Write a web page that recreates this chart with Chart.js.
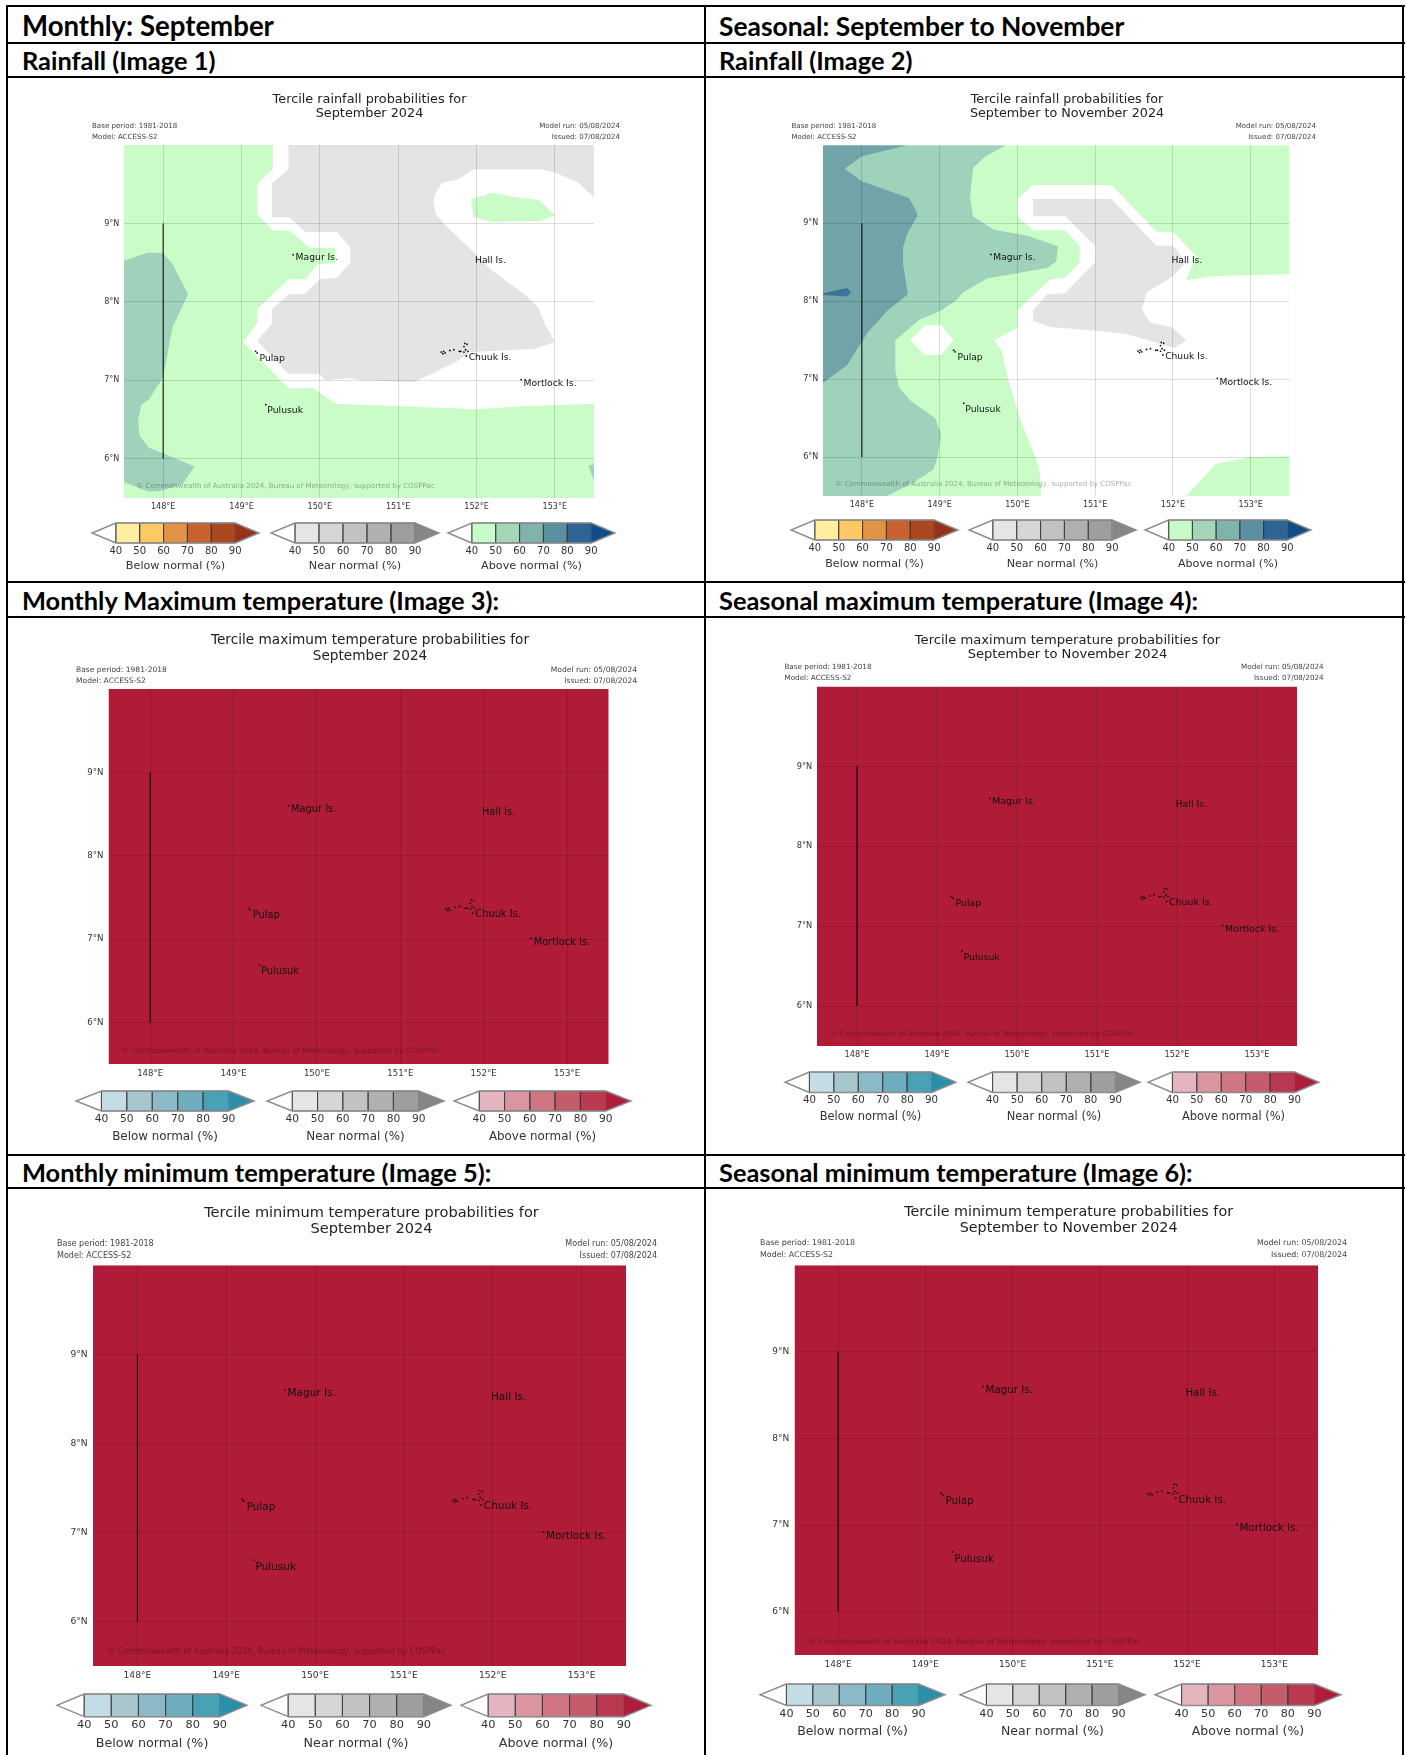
<!DOCTYPE html>
<html>
<head>
<meta charset="utf-8">
<script src="https://cdn.jsdelivr.net/npm/chart.js@4/dist/chart.umd.min.js"></script>
<style>
html, body { margin: 0; padding: 0; background: #fff; }
#page { position: relative; width: 1407px; height: 1755px; overflow: hidden; }
#page canvas { position: absolute; filter: blur(0.45px); }
.rule { position: absolute; background: #000; }
.head { position: absolute; font: bold 25.4px Lato, sans-serif; color: #000; white-space: nowrap; line-height: 30px; }
</style>
</head>
<body>
<div id="page"></div>
<script>
// axis ticks
const lonTicks = [148, 149, 150, 151, 152, 153];
const latTicks = [6, 7, 8, 9];
const lonRange = [147.5, 153.5];
const latRange = [5.5, 10];
const barTicks = [40, 50, 60, 70, 80, 90];
const barLabels = ['Below normal (%)', 'Near normal (%)', 'Above normal (%)'];

// colours of the tercile bars, last one is the arrow
const belowRain = ['#ffeda0', '#fec965', '#e09444', '#c9622f', '#ab4822', '#96321b'];
const nearAll = ['#e5e5e5', '#d6d6d6', '#c2c2c2', '#b0b0b0', '#9e9e9e', '#868686'];
const aboveRain = ['#c7fcc8', '#a4d5b6', '#7fb3ac', '#5a90a2', '#2f6496', '#104d87'];
const belowTemp = ['#c4dde4', '#a7c6cd', '#8bb9c7', '#6dadbe', '#49a1b6', '#2a8fa9'];
const aboveTemp = ['#e4b5be', '#da95a0', '#cf7682', '#c55c6b', '#b93a50', '#ae1d3b'];

// map regions, [lon, lat]
const fullArea = [[147.5, 5.5], [153.5, 5.5], [153.5, 10], [147.5, 10]];
const meridian = [[148, 6], [148, 9]];

const rain1Green = [[147.5, 10], [149.4, 10], [149.4, 9.69], [149.2, 9.5], [149.2, 9.12], [149.4, 8.91], [149.61, 8.91], [149.87, 8.69], [150.2, 8.69], [150.2, 8.5], [149.97, 8.48], [149.82, 8.29], [149.61, 8.29], [149.58, 8.27], [149.2, 7.91], [149.2, 7.72], [149.02, 7.49], [149.6, 6.9], [149.92, 6.9], [150.2, 6.7], [151.05, 6.67], [152, 6.63], [152.58, 6.67], [153.5, 6.7], [153.5, 5.5], [147.5, 5.5]];
const rain1GreenIsle = [[151.93, 9.31], [152.2, 9.39], [152.53, 9.33], [152.8, 9.3], [153, 9.1], [152.81, 9.03], [152.2, 9.02], [151.96, 9.08]];
const rain1Teal = [[147.5, 8.525], [147.81, 8.63], [148, 8.62], [148.12, 8.48], [148.29, 8.15], [148.32, 8.1], [148.12, 7.68], [148, 7.04], [147.82, 6.76], [147.72, 6.69], [147.68, 6.49], [147.7, 6.29], [147.82, 6.14], [148.02, 6.06], [148.4, 5.9], [148.25, 5.68], [147.97, 5.59], [147.82, 5.58], [147.5, 5.7]];
const rain1TealEast = [[153.43, 5.91], [153.5, 5.93], [153.5, 5.72]];
const rain1Grey = [[149.6, 10], [153.5, 10], [153.5, 9.33], [153.3, 9.52], [153, 9.65], [152.82, 9.69], [151.97, 9.69], [151.76, 9.56], [151.56, 9.52], [151.48, 9.39], [151.45, 9.27], [151.48, 9.12], [151.61, 8.97], [151.97, 8.63], [152.2, 8.4], [152.4, 8.25], [152.61, 8.1], [152.79, 7.93], [152.87, 7.72], [153, 7.49], [152.74, 7.4], [151.92, 7.36], [151.76, 7.25], [151.46, 7.1], [151.2, 6.98], [150.53, 7], [150.38, 7.03], [150.07, 7], [150, 7.08], [149.6, 7.08], [149.2, 7.5], [149.39, 7.72], [149.39, 7.91], [149.61, 8.1], [149.8, 8.1], [150, 8.29], [150.22, 8.31], [150.39, 8.5], [150.39, 8.69], [150.22, 8.89], [149.82, 8.89], [149.61, 9.08], [149.39, 9.08], [149.39, 9.51], [149.6, 9.69]];

const rain2Mid = [[147.5, 10], [149.85, 10], [149.59, 9.86], [149.43, 9.71], [149.39, 9.33], [149.43, 9.09], [149.69, 8.92], [150.13, 8.84], [150.39, 8.75], [150.52, 8.7], [150.5, 8.51], [150.39, 8.43], [149.61, 8.29], [149.3, 8.11], [149.21, 8.01], [149, 7.87], [148.74, 7.76], [148.43, 7.5], [148.43, 7.1], [148.48, 6.89], [148.63, 6.72], [148.94, 6.5], [149.02, 6.29], [148.97, 5.99], [148.92, 5.84], [148.63, 5.65], [148.32, 5.5], [147.5, 5.5]];
const rain2Dark = [[147.5, 10], [148.58, 10], [148, 9.86], [147.78, 9.7], [148, 9.54], [148.61, 9.32], [148.72, 9.11], [148.58, 8.86], [148.53, 8.69], [148.53, 8.48], [148.59, 8.09], [148.32, 7.87], [148.07, 7.59], [147.81, 7.18], [147.5, 6.95]];
const rain2Blue = [[147.5, 8.1], [147.81, 8.17], [147.86, 8.11], [147.81, 8.06], [147.5, 8.08]];
const rain2White = [[150.2, 9.49], [151.21, 9.49], [151.79, 8.89], [152, 8.89], [152.3, 8.58], [152.17, 8.27], [152.51, 8.32], [153.5, 8.35], [153.5, 6.01], [153, 6], [152.55, 5.91], [152.42, 5.77], [152.17, 5.5], [150.3, 5.5], [150.3, 5.68], [150.27, 5.9], [150.03, 6.5], [149.88, 7], [149.8, 7.36], [149.7, 7.5], [150, 7.66], [150, 7.88], [150.42, 8.28], [150.61, 8.3], [150.8, 8.5], [150.8, 8.71], [150.61, 8.91], [150.2, 8.91], [150, 9.09], [150, 9.31]];
const rain2Hole = [[148.62, 7.5], [148.81, 7.69], [149.02, 7.69], [149.18, 7.5], [149.02, 7.31], [148.81, 7.31]];
const rain2Grey = [[150.2, 9.31], [151.21, 9.31], [151.79, 8.71], [152, 8.71], [152.17, 8.5], [152, 8.32], [151.66, 8.11], [151.6, 7.9], [151.7, 7.73], [152, 7.66], [152.17, 7.5], [152.02, 7.4], [151.4, 7.58], [151, 7.62], [150.42, 7.67], [150.2, 7.75], [150.2, 7.88], [150.38, 8.09], [150.61, 8.1], [151, 8.5], [151, 8.71], [150.61, 9.09], [150.2, 9.09]];

// place names and the little islands, [lon, lat]
const placeNames = ['Magur Is.', 'Hall Is.', 'Pulap', 'Pulusuk', 'Chuuk Is.', 'Mortlock Is.'];
const placeAt = [[149.69, 8.56], [151.98, 8.52], [149.23, 7.28], [149.33, 6.61], [151.9, 7.29], [152.6, 6.96]];
const islands = [[149.66, 8.6], [149.18, 7.37], [149.2, 7.35], [149.31, 6.69], [152.57, 7.01], [151.55, 7.36], [151.58, 7.37], [151.6, 7.35], [151.57, 7.34], [151.66, 7.38], [151.71, 7.39], [151.78, 7.37], [151.8, 7.37], [151.85, 7.47], [151.88, 7.46], [151.84, 7.43], [151.86, 7.39], [151.89, 7.37], [151.84, 7.36], [151.87, 7.31]];

const titleFirst = ['Tercile rainfall probabilities for', 'Tercile rainfall probabilities for', 'Tercile maximum temperature probabilities for', 'Tercile maximum temperature probabilities for', 'Tercile minimum temperature probabilities for', 'Tercile minimum temperature probabilities for'];
const titleSecond = ['September 2024', 'September to November 2024', 'September 2024', 'September to November 2024', 'September 2024', 'September to November 2024'];
const headings = ['Monthly: September', 'Seasonal: September to November', 'Rainfall (Image 1)', 'Rainfall (Image 2)', 'Monthly Maximum temperature (Image 3):', 'Seasonal maximum temperature (Image 4):', 'Monthly minimum temperature (Image 5):', 'Seasonal minimum temperature (Image 6):'];
const copyright = '\u00a9 Commonwealth of Australia 2024, Bureau of Meteorology, supported by COSPPac';

const RAIN_GREEN = '#c9fcc7', RAIN_TEAL = '#9fd2bb', RAIN_DARK = '#70a4a9', RAIN_BLUE = '#39779a', RAIN_GREY = '#e4e4e4', TEMP_RED = '#b01c37';

const rain1Layers = [[rain1Green, RAIN_GREEN], [rain1GreenIsle, RAIN_GREEN], [rain1Teal, RAIN_TEAL], [rain1TealEast, RAIN_TEAL], [rain1Grey, RAIN_GREY]];
const rain2Layers = [[fullArea, RAIN_GREEN], [rain2Mid, RAIN_TEAL], [rain2Dark, RAIN_DARK], [rain2Blue, RAIN_BLUE], [rain2White, '#fff'], [rain2Hole, '#fff'], [rain2Grey, RAIN_GREY]];
const tempLayers = [[fullArea, TEMP_RED]];

// page layout, pixels
const panels = [
  { box: [9, 79, 695, 502], plot: [124, 145, 594, 498], title: [369.5, 99.5, 113.5], notes: [92, 126.3, 137, 620], bars: [[116, 235.5], [295, 415], [471.7, 591]], barY: [522.7, 543], labelY: 565, layers: rain1Layers, sets: [belowRain, nearAll, aboveRain] },
  { box: [707, 79, 695, 502], plot: [823, 145.3, 1289.6, 496], title: [1067, 99.5, 113.5], notes: [791.5, 126, 137, 1316], bars: [[815, 934], [993, 1112], [1168.4, 1287]], barY: [520, 540], labelY: 563, layers: rain2Layers, sets: [belowRain, nearAll, aboveRain] },
  { box: [9, 619, 695, 535], plot: [108.5, 689, 608.7, 1064], title: [370, 640.5, 656], notes: [76, 669.7, 681, 637], bars: [[101, 228], [292, 418.7], [479, 605.5]], barY: [1090.7, 1111], labelY: 1136, layers: tempLayers, sets: [belowTemp, nearAll, aboveTemp] },
  { box: [707, 619, 695, 535], plot: [817, 686.5, 1297, 1046], title: [1067.5, 640.5, 655], notes: [784.4, 667, 678, 1323.7], bars: [[809, 931], [992.5, 1115.6], [1172.7, 1294.7]], barY: [1072, 1092], labelY: 1115.5, layers: tempLayers, sets: [belowTemp, nearAll, aboveTemp] },
  { box: [9, 1190, 695, 565], plot: [93, 1265.3, 626, 1666], title: [371.5, 1213.5, 1229], notes: [57, 1244, 1255.5, 657], bars: [[84, 219.6], [288, 423.6], [488, 623.6]], barY: [1694, 1716.7], labelY: 1743, layers: tempLayers, sets: [belowTemp, nearAll, aboveTemp] },
  { box: [707, 1190, 695, 565], plot: [794.5, 1265.3, 1318, 1655], title: [1068.6, 1212.5, 1228], notes: [760, 1243, 1254.5, 1347], bars: [[786.7, 919], [986, 1118], [1182, 1315]], barY: [1684, 1705.5], labelY: 1731, layers: tempLayers, sets: [belowTemp, nearAll, aboveTemp] }
];
const headRows = [26, 60, 600, 1172];
const ruleY = [6, 43, 77, 582, 617, 1155, 1188];
const ruleX = [7, 705, 1403];

const FONT = '"DejaVu Sans", sans-serif';
const page = document.getElementById('page');

function addDiv(cls, css, text) {
  const d = document.createElement('div');
  d.className = cls;
  d.style.cssText = css;
  if (text) d.textContent = text;
  page.appendChild(d);
}
function addCanvas(x, y, w, h) {
  const c = document.createElement('canvas');
  c.width = Math.round(w);
  c.height = Math.round(h);
  c.style.left = Math.round(x) + 'px';
  c.style.top = Math.round(y) + 'px';
  page.appendChild(c);
  return c;
}

ruleY.forEach(y => addDiv('rule', `left:6px;top:${y - 1}px;width:1399px;height:2px`));
ruleX.forEach(x => addDiv('rule', `left:${x - 1}px;top:5px;width:2px;height:1750px`));
headRows.forEach((y, row) => {
  addDiv('head', `${row === 0 ? 'font-size:27.6px;' : ''}left:22px;top:${y - 15}px`, headings[row * 2]);
  addDiv('head', `${row === 0 ? 'font-size:26.4px;' : ''}left:719px;top:${y - 15}px`, headings[row * 2 + 1]);
});

function polygon(points, color, extra) {
  return Object.assign({
    data: points.map(([x, y]) => ({ x, y })),
    showLine: true,
    fill: 'shape',
    backgroundColor: color,
    borderWidth: 0,
    pointRadius: 0,
    tension: 0,
    clip: false
  }, extra);
}

function drawMap(p, n) {
  const [bx, by, bw, bh] = p.box;
  const [l, t, r, b] = p.plot;
  const k = (r - l) / (lonRange[1] - lonRange[0]);
  const yAxisW = 40, xAxisH = 24;
  const tickFont = { family: FONT, size: k * 0.103 };

  const datasets = p.layers.map(([pts, col]) => polygon(pts, col, { clip: true }));
  datasets.push({ data: meridian.map(([x, y]) => ({ x, y })), showLine: true, borderColor: '#000', borderWidth: 1, pointRadius: 0 });
  datasets.push({ data: islands.map(([x, y]) => ({ x, y })), backgroundColor: '#111', pointRadius: 0.9, pointBorderWidth: 0 });
  datasets.forEach((d, i) => { d.order = datasets.length - i; });

  const mapText = {
    id: 'mapText',
    afterDraw(chart) {
      const ctx = chart.ctx, xs = chart.scales.x, ys = chart.scales.y;
      ctx.save();
      ctx.textBaseline = 'middle';
      ctx.fillStyle = '#222';
      ctx.font = `${k * 0.164}px ${FONT}`;
      ctx.textAlign = 'center';
      ctx.fillText(titleFirst[n], p.title[0] - bx, p.title[1] - by);
      ctx.fillText(titleSecond[n], p.title[0] - bx, p.title[2] - by);
      ctx.font = `${k * 0.0906}px ${FONT}`;
      ctx.fillStyle = '#444';
      ctx.textAlign = 'left';
      ctx.fillText('Base period: 1981-2018', p.notes[0] - bx, p.notes[1] - by);
      ctx.fillText('Model: ACCESS-S2', p.notes[0] - bx, p.notes[2] - by);
      ctx.textAlign = 'right';
      ctx.fillText('Model run: 05/08/2024', p.notes[3] - bx, p.notes[1] - by);
      ctx.fillText('Issued: 07/08/2024', p.notes[3] - bx, p.notes[2] - by);
      ctx.textAlign = 'left';
      ctx.fillStyle = 'rgba(0,0,0,0.33)';
      ctx.fillText(copyright, xs.getPixelForValue(147.66), ys.getPixelForValue(5.655));
      ctx.font = `${k * 0.118}px ${FONT}`;
      ctx.fillStyle = '#111';
      placeNames.forEach((name, i) => {
        ctx.fillText(name, xs.getPixelForValue(placeAt[i][0]), ys.getPixelForValue(placeAt[i][1]));
      });
      ctx.restore();
    }
  };

  new Chart(addCanvas(bx, by, bw, bh), {
    type: 'scatter',
    data: { datasets },
    plugins: [mapText],
    options: {
      responsive: false,
      animation: false,
      layout: { padding: { left: l - bx - yAxisW, top: t - by, right: bx + bw - r, bottom: by + bh - b - xAxisH } },
      plugins: { legend: { display: false }, tooltip: { enabled: false } },
      scales: {
        x: {
          type: 'linear', min: lonRange[0], max: lonRange[1],
          afterBuildTicks: s => { s.ticks = lonTicks.map(value => ({ value })); },
          afterFit: s => { s.height = xAxisH; },
          grid: { color: 'rgba(0,0,0,0.13)', z: 1, drawTicks: false },
          border: { display: false },
          ticks: { callback: v => v + '\u00b0E', font: tickFont, color: '#333', padding: k * 0.05, maxRotation: 0, autoSkip: false }
        },
        y: {
          type: 'linear', min: latRange[0], max: latRange[1],
          afterBuildTicks: s => { s.ticks = latTicks.map(value => ({ value })); },
          afterFit: s => { s.width = yAxisW; },
          grid: { color: 'rgba(0,0,0,0.13)', z: 1, drawTicks: false },
          border: { display: false },
          ticks: { callback: v => v + '\u00b0N', font: tickFont, color: '#333', padding: k * 0.06, autoSkip: false }
        }
      }
    }
  });
}

function drawBar(p, colours, span, label) {
  const step = barTicks[1] - barTicks[0];
  const first = barTicks[0], last = barTicks[barTicks.length - 1];
  const [x40, x90] = span;
  const unit = (x90 - x40) / (last - first);
  const pad = 4;
  const k = (p.plot[2] - p.plot[0]) / 6;
  const left = x40 - step * unit - pad, top = p.barY[0] - pad;
  const w = (last - first + 2 * step) * unit + 2 * pad;
  const axisH = p.labelY + 8 - p.barY[1];
  const h = p.barY[1] - p.barY[0] + pad + axisH + 1;

  const datasets = [];
  barTicks.slice(0, -1).forEach((v, i) => {
    datasets.push(polygon([[v, 0], [v + step, 0], [v + step, 1], [v, 1], [v, 0]], colours[i], { borderWidth: 1, borderColor: 'rgba(50,50,50,0.5)' }));
  });
  datasets.push(polygon([[last, 0], [last + step, 0.5], [last, 1]], colours[5]));
  datasets.push(polygon([[first, 0], [first - step, 0.5], [first, 1], [last, 1], [last + step, 0.5], [last, 0], [first, 0]], 'rgba(0,0,0,0)', { fill: false, borderWidth: 1.4, borderColor: '#8c8c8c' }));
  datasets.forEach((d, i) => { d.order = datasets.length - i; });

  new Chart(addCanvas(left, top, w, h), {
    type: 'scatter',
    data: { datasets },
    options: {
      responsive: false,
      animation: false,
      layout: { padding: { left: pad, right: pad, top: pad, bottom: 1 } },
      plugins: { legend: { display: false }, tooltip: { enabled: false } },
      scales: {
        x: {
          type: 'linear', min: first - step, max: last + step,
          afterBuildTicks: s => { s.ticks = barTicks.map(value => ({ value })); },
          afterFit: s => { s.height = axisH; },
          grid: { display: false, drawTicks: false },
          border: { display: false },
          ticks: { font: { family: FONT, size: k * 0.128 }, color: '#333', padding: 2, maxRotation: 0, autoSkip: false },
          title: { display: true, text: label, font: { family: FONT, size: k * 0.143 }, color: '#333', padding: 0 }
        },
        y: { type: 'linear', min: 0, max: 1, display: false }
      }
    }
  });
}

panels.forEach((p, n) => {
  drawMap(p, n);
  p.bars.forEach((span, i) => drawBar(p, p.sets[i], span, barLabels[i]));
});
</script>
</body>
</html>
